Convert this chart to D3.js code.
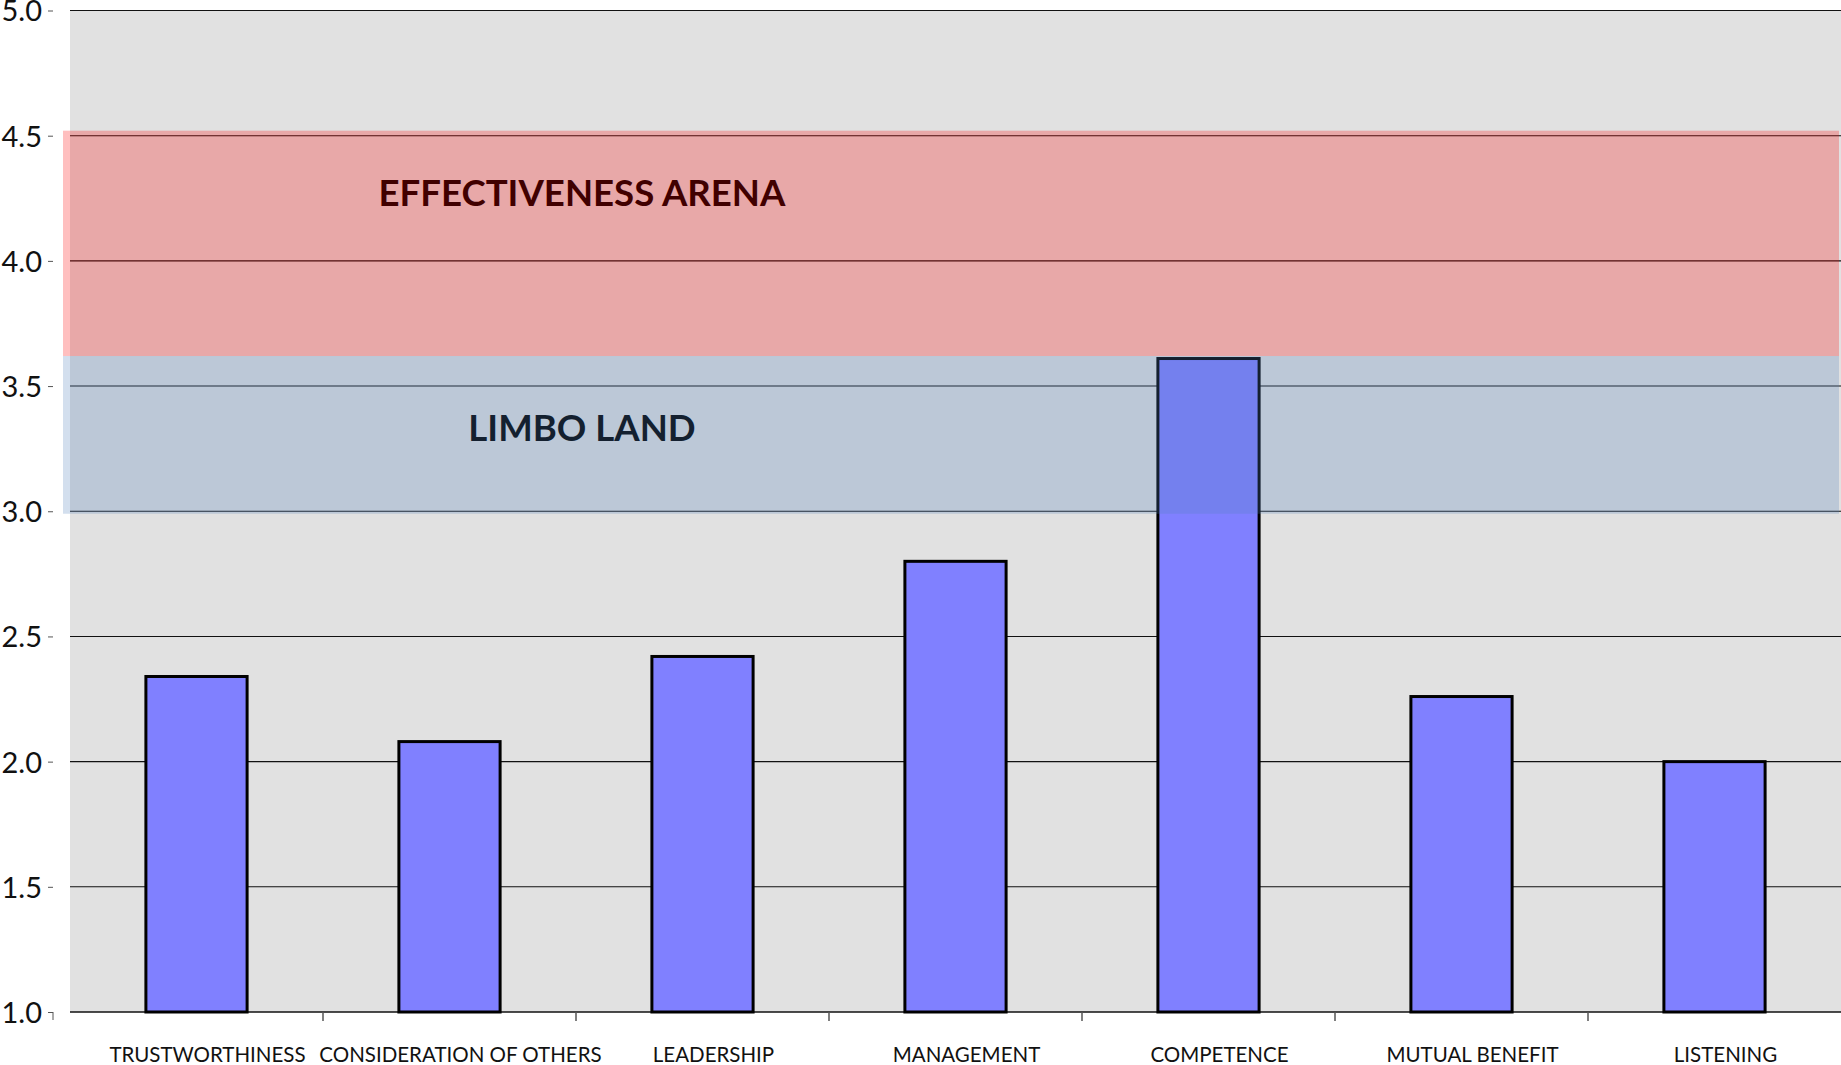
<!DOCTYPE html>
<html>
<head>
<meta charset="utf-8">
<script src="https://cdn.jsdelivr.net/npm/d3@7"></script>
<style>
	body { margin: 0; background: #fff; }
	svg { display: block; }
</style>
</head>
<body>
<svg id="chart" width="1841" height="1065"></svg>
<script>
	// data
	var categories = ["TRUSTWORTHINESS", "CONSIDERATION OF OTHERS", "LEADERSHIP", "MANAGEMENT", "COMPETENCE", "MUTUAL BENEFIT", "LISTENING"];
	var scores = [2.34, 2.08, 2.42, 2.80, 3.61, 2.26, 2.00];
	var yTicks = [1.0, 1.5, 2.0, 2.5, 3.0, 3.5, 4.0, 4.5, 5.0];

	// shaded zones (value ranges)
	var zoneNames = ["EFFECTIVENESS ARENA", "LIMBO LAND"];
	var zoneFrom = [3.62, 2.99];
	var zoneTo = [4.52, 3.62];
	var zoneLabelAt = [4.22, 3.28];
	var zoneColors = ["rgba(255,0,0,0.25)", "rgba(79,129,189,0.25)"];

	var svg = d3.select("#chart"),
	    chartW = +svg.attr("width"),
	    plotLeft = 70,
	    plotTop = 10.5,
	    plotBottom = 1012;

	var x = d3.scaleBand()
	    .domain(categories)
	    .range([plotLeft, chartW])
	    .paddingInner(0.6)
	    .paddingOuter(0.3);

	var y = d3.scaleLinear()
	    .domain([1, 5])
	    .range([plotBottom, plotTop]);

	var data = categories.map(function(c, i) { return {cat: c, score: scores[i]}; });

	// plot background
	svg.append("rect")
		.attr("x", plotLeft)
		.attr("y", plotTop)
		.attr("width", chartW - plotLeft)
		.attr("height", plotBottom - plotTop)
		.attr("fill", "#e1e1e1");

	// gridlines
	svg.append("g")
		.selectAll("line")
		.data(yTicks.slice(1))
		.enter().append("line")
		.attr("x1", plotLeft)
		.attr("x2", chartW)
		.attr("y1", function(d) { return y(d); })
		.attr("y2", function(d) { return y(d); })
		.attr("stroke", "#111")
		.attr("stroke-width", 1.1);

	// y axis: ticks + labels only
	var yAxis = svg.append("g")
		.attr("transform", "translate(53,0)")
		.call(d3.axisLeft(y).tickValues(yTicks).tickSize(5).tickPadding(6)
			.tickFormat(d3.format(".1f")));
	yAxis.select(".domain").remove();
	yAxis.selectAll(".tick line").attr("stroke", "#555");
	yAxis.selectAll(".tick text")
		.attr("font-family", "Lato")
		.attr("font-size", "29px")
		.attr("fill", "#111")
		.attr("dy", "0.36em");

	// little corner mark at 1.0
	svg.append("line")
		.attr("x1", 53).attr("x2", 53)
		.attr("y1", y(1)).attr("y2", y(1) + 8)
		.attr("stroke", "#555");

	// x axis line and category separators
	svg.append("line")
		.attr("x1", plotLeft).attr("x2", chartW)
		.attr("y1", y(1)).attr("y2", y(1))
		.attr("stroke", "#111")
		.attr("stroke-width", 1.5);

	var step = x.step();
	svg.append("g")
		.selectAll("line")
		.data(categories.slice(1))
		.enter().append("line")
		.attr("x1", function(d) { return x(d) - step * x.paddingInner() / 2; })
		.attr("x2", function(d) { return x(d) - step * x.paddingInner() / 2; })
		.attr("y1", y(1))
		.attr("y2", y(1) + 9)
		.attr("stroke", "#555")
		.attr("stroke-width", 1.5);

	svg.append("g")
		.selectAll("text")
		.data(categories)
		.enter().append("text")
		.attr("x", function(d) { return x(d) + x.bandwidth() / 2 + 11; })
		.attr("y", 1062)
		.attr("text-anchor", "middle")
		.attr("font-family", "Lato")
		.attr("font-size", "20.5px")
		.attr("fill", "#111")
		.text(function(d) { return d; });

	// bars
	svg.append("g")
		.selectAll("rect")
		.data(data)
		.enter().append("rect")
		.attr("x", function(d) { return x(d.cat); })
		.attr("y", function(d) { return y(d.score); })
		.attr("width", x.bandwidth())
		.attr("height", function(d) { return y(1) - y(d.score); })
		.attr("fill", "#8080ff")
		.attr("stroke", "#000")
		.attr("stroke-width", 3);

	// zone labels (drawn under the translucent zones)
	var labelX = x(categories[2]) - step * x.paddingInner() / 2 + 6;
	svg.append("g")
		.selectAll("text")
		.data(zoneNames)
		.enter().append("text")
		.attr("x", labelX)
		.attr("y", function(d, i) { return y(zoneLabelAt[i]); })
		.attr("text-anchor", "middle")
		.attr("font-family", "Lato")
		.attr("font-weight", "bold")
		.attr("font-size", "36.6px")
		.attr("fill", "#000")
		.text(function(d) { return d; });

	// translucent zones on top
	svg.append("g")
		.selectAll("rect")
		.data(zoneNames)
		.enter().append("rect")
		.attr("x", plotLeft - 7)
		.attr("width", chartW - 2 - (plotLeft - 7))
		.attr("y", function(d, i) { return y(zoneTo[i]); })
		.attr("height", function(d, i) { return y(zoneFrom[i]) - y(zoneTo[i]); })
		.attr("fill", function(d, i) { return zoneColors[i]; });
</script>
</body>
</html>
